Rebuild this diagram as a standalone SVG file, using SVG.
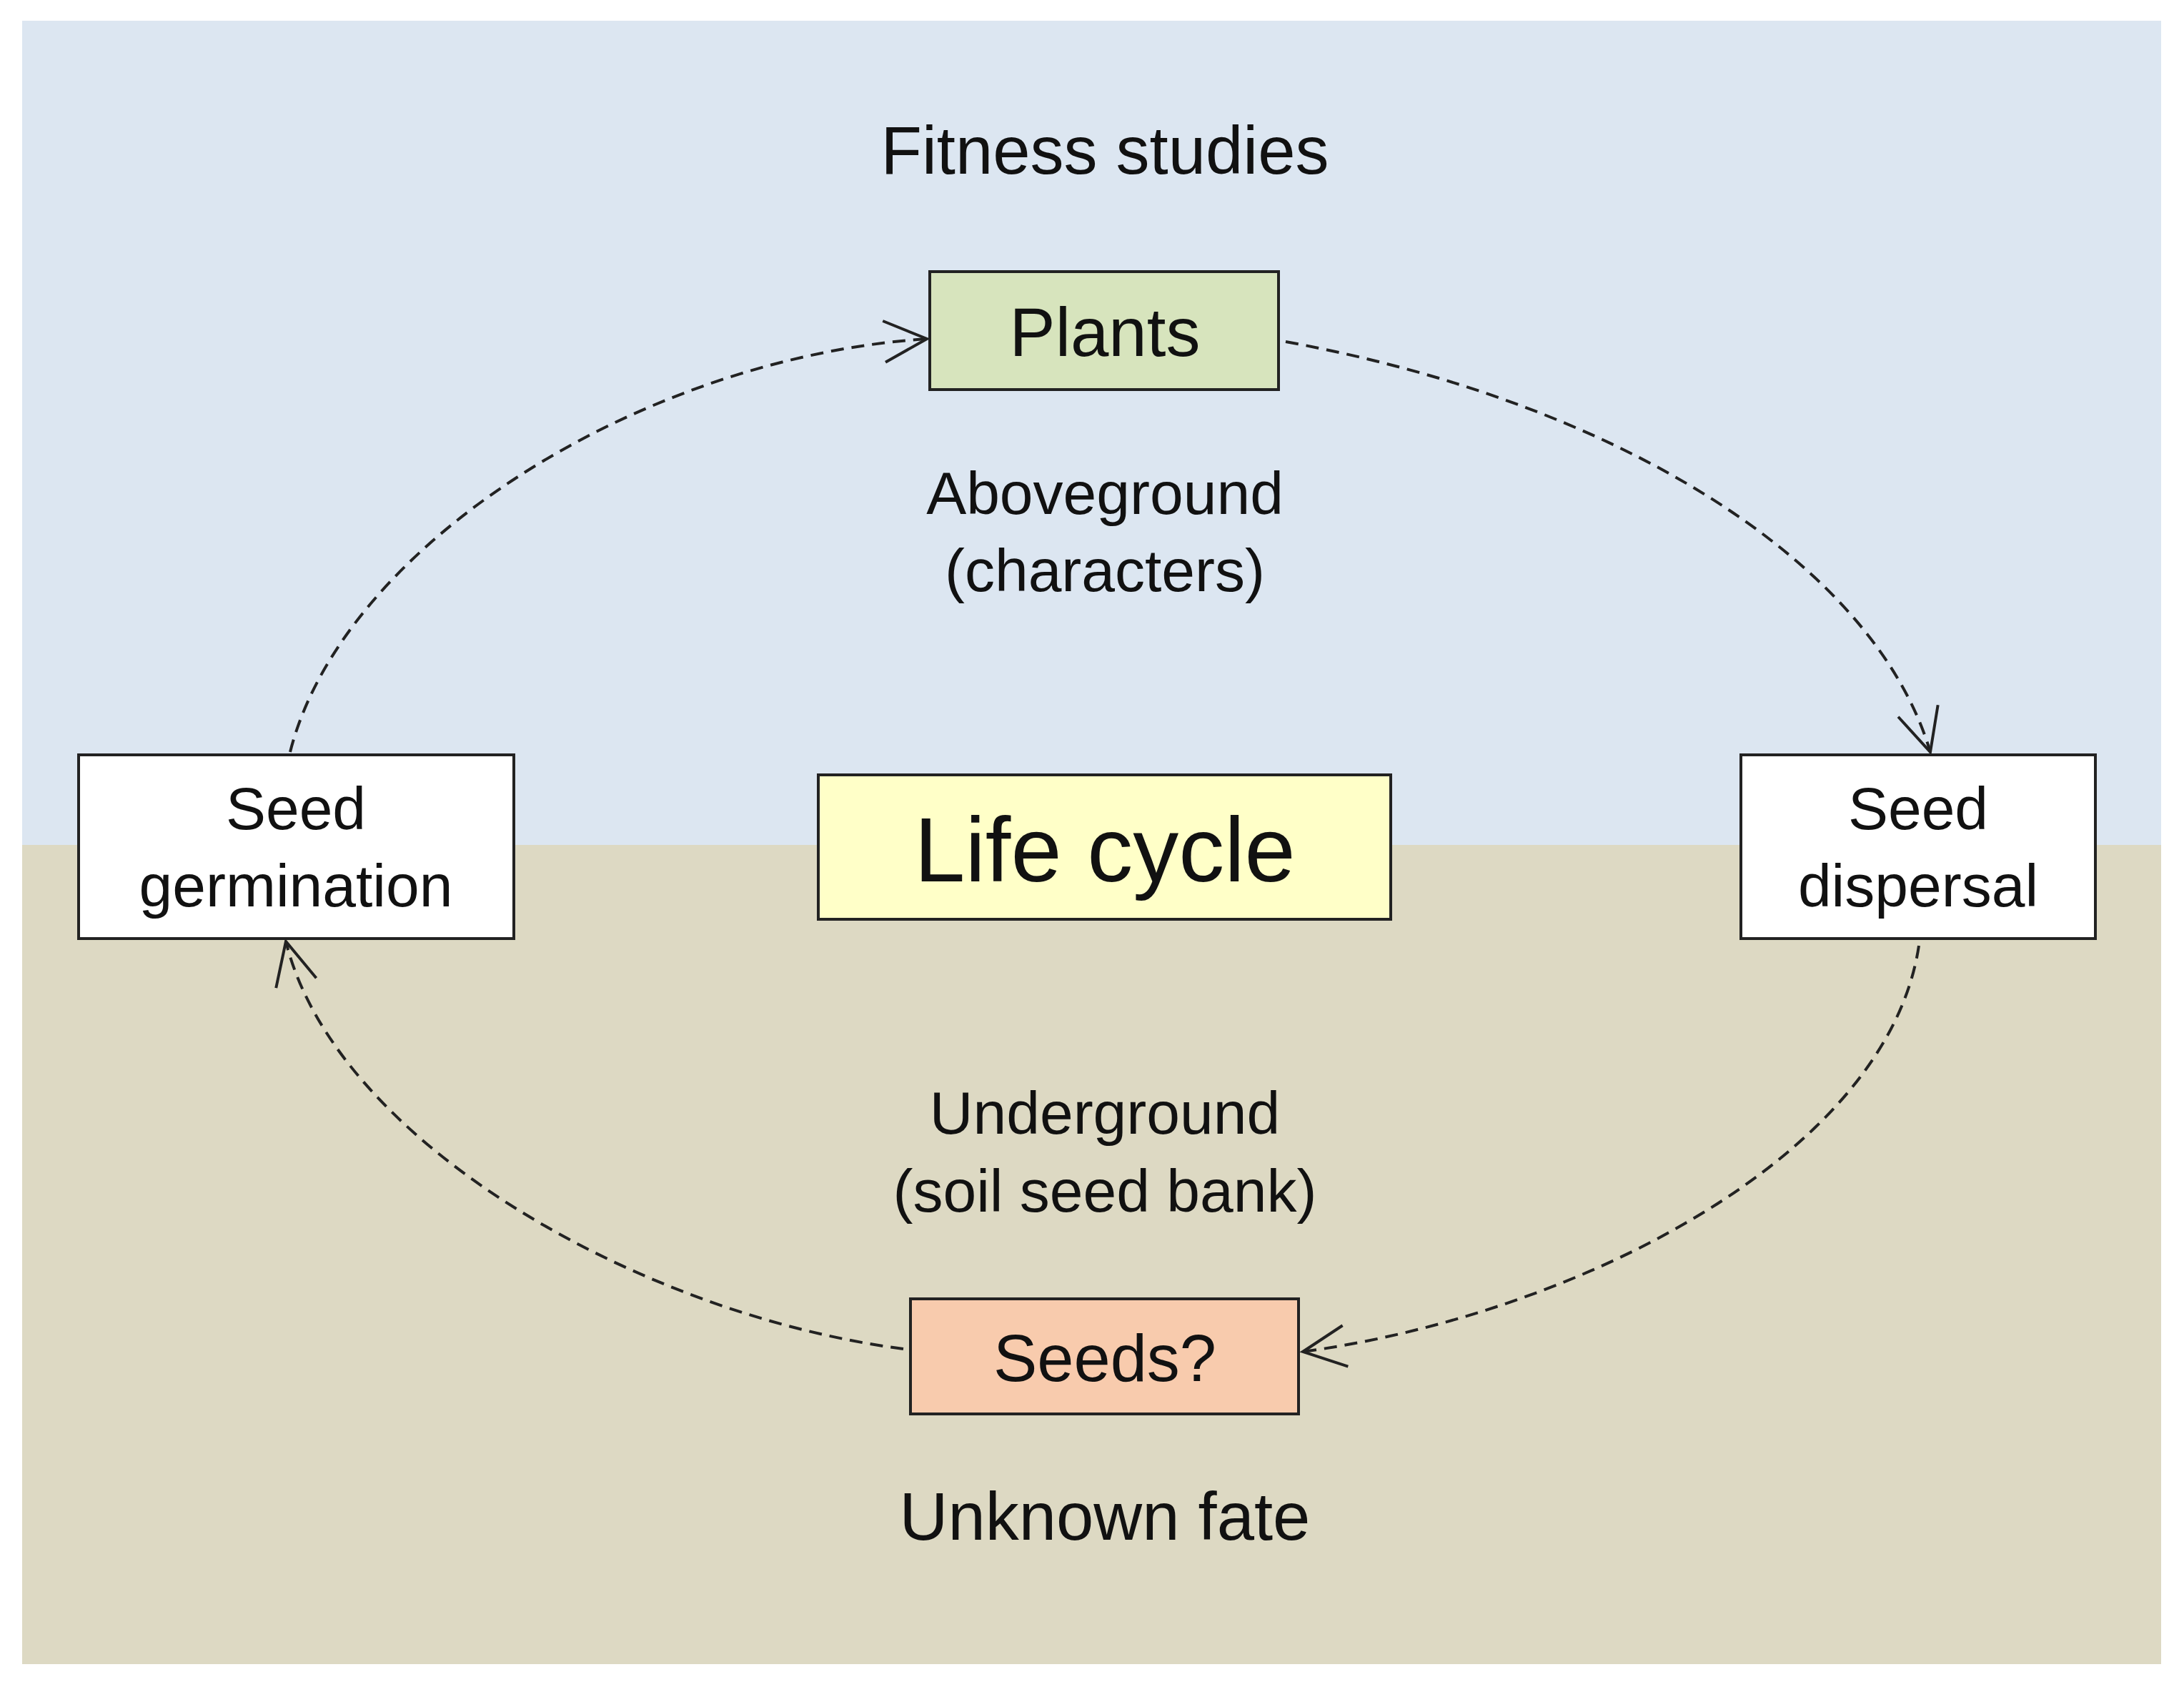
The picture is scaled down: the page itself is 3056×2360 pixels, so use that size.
<svg xmlns="http://www.w3.org/2000/svg" width="3056" height="2360" viewBox="0 0 3056 2360">
<style>
text{font-family:"Liberation Sans",Arial,sans-serif;fill:#111;text-anchor:middle}
.box{stroke:#222;stroke-width:4}
.c{fill:none;stroke:#222;stroke-width:4;stroke-dasharray:18 11}
.m{font-size:84px}
</style>
<defs>
<marker id="a" markerWidth="70" markerHeight="70" refX="64" refY="35" orient="auto" markerUnits="userSpaceOnUse">
<path d="M4,6 L64,35 L4,64" fill="none" stroke="#222" stroke-width="4"/>
</marker>
</defs>
<rect width="3056" height="2360" fill="#fff"/>
<rect x="31" y="29" width="2993" height="1153" fill="#dce6f1"/>
<rect x="31" y="1182" width="2993" height="1146" fill="#ddd9c3"/>
<text x="1546" y="243" font-size="94">Fitness studies</text>
<text class="m" x="1546" y="719">Aboveground</text>
<text class="m" x="1546" y="827">(characters)</text>
<text class="m" x="1546" y="1586">Underground</text>
<text class="m" x="1546" y="1695">(soil seed bank)</text>
<text x="1546" y="2154" font-size="94">Unknown fate</text>
<g id="connectors">
<path class="c" d="M406,1052 C480,760 900,500 1297,474" marker-end="url(#a)"/>
<path class="c" d="M1799,478 C2250,560 2620,780 2701,1052" marker-end="url(#a)"/>
<path class="c" d="M2685,1323 C2640,1620 2200,1840 1823,1891" marker-end="url(#a)"/>
<path class="c" d="M1264,1887 C900,1840 470,1600 400,1317" marker-end="url(#a)"/>
</g>
<g id="plants"><rect class="box" x="1301" y="380" width="488" height="165" fill="#d7e4bd"/><text x="1546" y="498" font-size="96">Plants</text></g>
<g id="lifecycle"><rect class="box" x="1145" y="1084" width="801" height="202" fill="#ffffc8"/><text x="1546" y="1233" font-size="128">Life cycle</text></g>
<g id="germination"><rect class="box" x="110" y="1056" width="609" height="257" fill="#fff"/><text class="m" x="414" y="1160">Seed</text><text class="m" x="414" y="1268">germination</text></g>
<g id="dispersal"><rect class="box" x="2436" y="1056" width="496" height="257" fill="#fff"/><text class="m" x="2684" y="1160">Seed</text><text class="m" x="2684" y="1268">dispersal</text></g>
<g id="seeds"><rect class="box" x="1274" y="1817" width="543" height="161" fill="#f8cbad"/><text x="1546" y="1932" font-size="92">Seeds?</text></g>
</svg>
